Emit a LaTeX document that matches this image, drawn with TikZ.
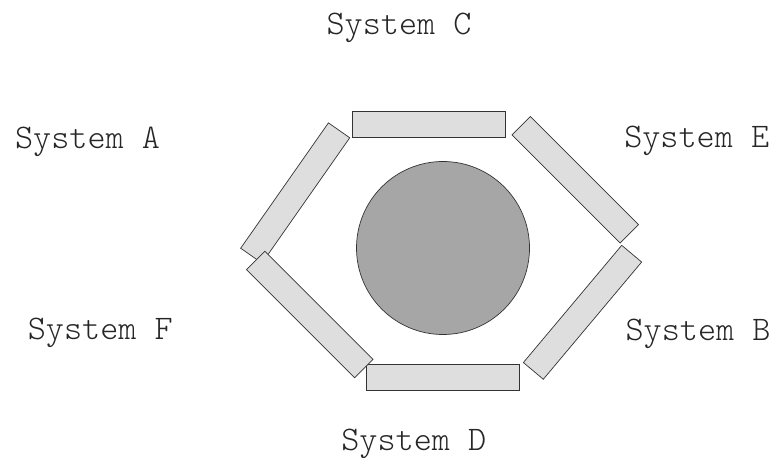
\documentclass[tikz,border=0pt]{standalone}
\usepackage{fontspec}
\newfontfamily\lblfont{Latin Modern Mono Light}
\begin{document}
\begin{tikzpicture}[x=1bp,y=-1bp,
  panel/.style={draw=black!80,line width=0.7bp,fill=black!13,rectangle,
    minimum width=153bp,minimum height=26bp,inner sep=0pt},
  core/.style={draw=black!80,line width=0.7bp,fill=black!35,circle,
    minimum size=173bp,inner sep=0pt},
  label/.style={font=\lblfont\fontsize{34.5bp}{40bp}\selectfont,text=black!85,anchor=base,inner sep=0pt}]
\useasboundingbox (0,0) rectangle (777,458);
\node[core] (hub) at (443,248) {};
\node[panel] (pC) at (428.5,124) {};
\node[panel] (pD) at (443,377.8) {};
\node[panel,rotate=55] (pA) at (295.2,193) {};
\node[panel,rotate=-45] (pF) at (309.8,314.5) {};
\node[panel,rotate=-45] (pE) at (575.2,179.8) {};
\node[panel,rotate=50] (pB) at (582.5,312.3) {};
\node[label] (tC) at (399,35) {System C};
\node[label] (tA) at (87.5,148.5) {System A};
\node[label] (tF) at (100.3,339.5) {System F};
\node[label] (tE) at (696.7,148) {System E};
\node[label] (tB) at (698,341) {System B};
\node[label] (tD) at (413.8,450.5) {System D};
\end{tikzpicture}
\end{document}
